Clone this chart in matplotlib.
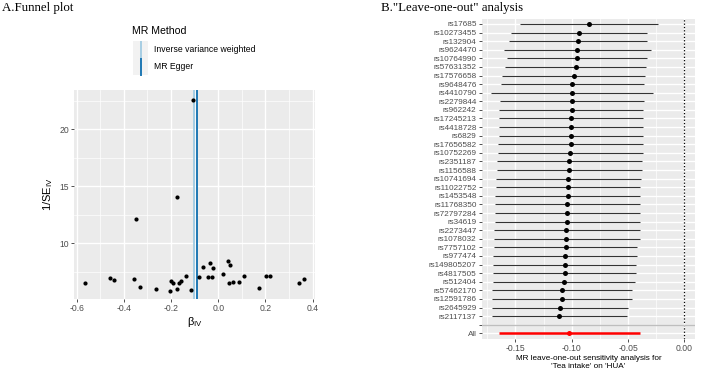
import matplotlib
matplotlib.use('Agg')
import matplotlib.pyplot as plt
from matplotlib.lines import Line2D
from matplotlib.patches import Rectangle
import numpy as np

plt.rcParams.update({'font.family': ['Liberation Sans', 'DejaVu Sans']})
plt.rcParams.update({'axes.unicode_minus': False})
plt.rcParams.update({'mathtext.fontset': 'custom'})
plt.rcParams.update({'mathtext.rm': 'Liberation Sans'})

#%% data - funnel plot (beta_IV vs 1/SE_IV)
beta_iv = [-0.107, -0.176, -0.350, -0.564, -0.458, -0.442, -0.357, -0.332, -0.263,
           -0.205, -0.200, -0.191, -0.175, -0.168, -0.157, -0.137, -0.116, -0.082,
           -0.065, -0.044, -0.036, -0.027, -0.021, 0.020, 0.041, 0.048, 0.044,
           0.061, 0.086, 0.109, 0.171, 0.201, 0.220, 0.343, 0.364]
inv_se = [22.54, 14.03, 12.16, 6.52, 6.93, 6.78, 6.90, 6.14, 5.96,
          5.84, 6.67, 6.55, 5.96, 6.55, 6.69, 7.16, 5.90, 7.04,
          7.92, 7.04, 8.30, 7.04, 7.81, 7.28, 8.42, 8.12, 6.55,
          6.63, 6.58, 7.16, 6.08, 7.10, 7.10, 6.55, 6.84]
methods = ['Inverse variance weighted', 'MR Egger']
method_b = [-0.101, -0.0915]
method_col = ['#a6cee3', '#1f78b4']

#%% data - leave-one-out
snps = ['rs17685', 'rs10273455', 'rs132904', 'rs9624470', 'rs10764990', 'rs57631352',
        'rs17576658', 'rs9648476', 'rs4410790', 'rs2279844', 'rs962242', 'rs17245213',
        'rs4418728', 'rs6829', 'rs17656582', 'rs10752269', 'rs2351187', 'rs1156588',
        'rs10741694', 'rs11022752', 'rs1453548', 'rs11768350', 'rs72797284', 'rs34619',
        'rs2273447', 'rs1078032', 'rs7757102', 'rs977474', 'rs149805207', 'rs4817505',
        'rs512404', 'rs57462170', 'rs12591786', 'rs2645929', 'rs2117137']
loo_b = [-0.0851, -0.0937, -0.0946, -0.0949, -0.0952, -0.0966,
         -0.0984, -0.0996, -0.0999, -0.1002, -0.1002, -0.1005,
         -0.1008, -0.1008, -0.1011, -0.1014, -0.1020, -0.1023,
         -0.1029, -0.1032, -0.1035, -0.1038, -0.1041, -0.1044,
         -0.1047, -0.1050, -0.1055, -0.1061, -0.1064, -0.1064,
         -0.1067, -0.1085, -0.1091, -0.1103, -0.1115]
loo_lo = [-0.1462, -0.1536, -0.1560, -0.1604, -0.1571, -0.1595,
          -0.1616, -0.1631, -0.1714, -0.1640, -0.1643, -0.1646,
          -0.1649, -0.1649, -0.1652, -0.1655, -0.1661, -0.1667,
          -0.1676, -0.1676, -0.1679, -0.1685, -0.1685, -0.1685,
          -0.1691, -0.1691, -0.1694, -0.1700, -0.1703, -0.1703,
          -0.1703, -0.1709, -0.1709, -0.1709, -0.1709]
loo_hi = [-0.0237, -0.0335, -0.0329, -0.0294, -0.0335, -0.0341,
          -0.0350, -0.0361, -0.0281, -0.0361, -0.0365, -0.0367,
          -0.0367, -0.0370, -0.0370, -0.0370, -0.0379, -0.0379,
          -0.0385, -0.0391, -0.0394, -0.0394, -0.0394, -0.0394,
          -0.0394, -0.0394, -0.0424, -0.0424, -0.0430, -0.0430,
          -0.0436, -0.0463, -0.0468, -0.0498, -0.0512]
all_b, all_lo, all_hi = -0.1023, -0.1646, -0.0394

#%% figure setup
W, H = 709, 378
fig = plt.figure(figsize=(W/100, H/100), dpi=100)

def fx(px):
    return px / W

def fy(py):
    return 1 - py / H

def gg_style(ax):
    ax.set_facecolor('#EBEBEB')
    for s in ax.spines.values():
        s.set_visible(False)
    ax.set_axisbelow(True)
    ax.grid(True, which='major', color='white', lw=1.0)
    ax.grid(True, which='minor', color='white', lw=0.5)
    ax.tick_params(which='major', length=2.2, width=0.6, color='#333333',
                   labelcolor='#4D4D4D', labelsize=6.2, pad=1.5)
    ax.tick_params(which='minor', length=0)

#%% A. funnel plot
ax1 = fig.add_axes([fx(74), fy(299), (315-74)/W, (299-90)/H])
gg_style(ax1)
for b, c in zip(method_b, method_col):
    ax1.axvline(b, color=c, lw=1.4, zorder=2)
ax1.scatter(beta_iv, inv_se, s=9, color='black', zorder=3, linewidths=0)
ax1.set_xlim(-0.611, 0.41)
ax1.set_ylim(5.11, 23.45)
ax1.set_xticks(np.arange(-0.6, 0.41, 0.2))
ax1.set_xticklabels(['%.1f' % v for v in np.arange(-0.6, 0.41, 0.2)])
ax1.set_xticks(np.arange(-0.5, 0.41, 0.2), minor=True)
ax1.set_yticks([10, 15, 20])
ax1.set_yticks([7.5, 12.5, 17.5, 22.5], minor=True)
ax1.set_xlabel(r'β$_{\mathrm{IV}}$', fontsize=8, labelpad=1)
ax1.set_ylabel(r'1/SE$_{\mathrm{IV}}$', fontsize=8, labelpad=3)

# legend drawn by hand, ggplot style above the panel
fig.text(fx(131.5), fy(31), 'MR Method', fontsize=7.6, va='center', ha='left')
for i, (m, c) in enumerate(zip(methods, method_col)):
    yc = 49.5 + 17 * i
    fig.add_artist(Rectangle((fx(133), fy(yc + 8.5)), 15/W, 17/H,
                             transform=fig.transFigure, color='#F2F2F2', lw=0))
    fig.add_artist(Line2D([fx(140.5), fx(140.5)], [fy(yc + 8), fy(yc - 8)],
                          transform=fig.transFigure, color=c, lw=1.4))
    fig.text(fx(154), fy(yc), m, fontsize=6.2, va='center', ha='left')

#%% B. leave-one-out
ax2 = fig.add_axes([fx(481.7), fy(338.5), (695-481.7)/W, (338.5-18.8)/H])
gg_style(ax2)
n = len(snps)
ypos = np.arange(n + 2, 2, -1)
ax2.axvline(0, color='black', ls=':', lw=0.9, zorder=2)
ax2.axhline(2, color='#BEBEBE', lw=1.0, zorder=2)
ax2.hlines(ypos, loo_lo, loo_hi, color='#333333', lw=0.8, zorder=3)
ax2.scatter(loo_b, ypos, s=13, color='black', zorder=4, linewidths=0)
ax2.hlines([1], [all_lo], [all_hi], color='#FF0000', lw=1.8, zorder=3)
ax2.scatter([all_b], [1], s=13, color='#FF0000', zorder=4, linewidths=0)
ax2.set_ylim(0.4, n + 2.6)
ax2.set_yticks(list(ypos) + [2, 1])
ax2.set_yticklabels(snps + ['', 'All'])
ax2.set_xlim(-0.180, 0.0095)
xt = [-0.15, -0.10, -0.05, 0.00]
ax2.set_xticks(xt)
ax2.set_xticklabels(['%.2f' % v for v in xt])
ax2.set_xticks([-0.175, -0.125, -0.075, -0.025], minor=True)
ax2.tick_params(axis='y', labelsize=5.9, pad=1.5)
ax2.set_xlabel("MR leave-one-out sensitivity analysis for\n'Tea intake' on 'HUA'",
               fontsize=5.9, labelpad=2, linespacing=1.05)

#%% panel titles
fig.text(fx(2), fy(2), 'A.Funnel plot', family='Liberation Serif', fontsize=9.3,
         va='top', ha='left')
fig.text(fx(380.5), fy(2), 'B."Leave-one-out" analysis', family='Liberation Serif',
         fontsize=9.3, va='top', ha='left')

plt.savefig('out.png', dpi=100)
